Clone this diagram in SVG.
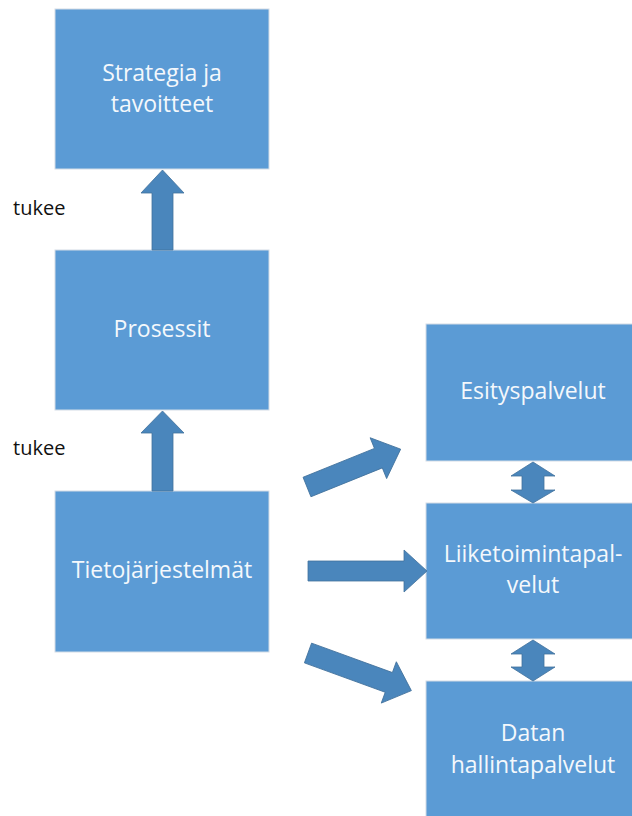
<svg xmlns="http://www.w3.org/2000/svg" width="632" height="816" viewBox="0 0 632 816">
<style>
.box{fill:#5B9BD5;stroke:#D3DCE6;stroke-width:1}
.lbl{font-family:"Open Sans","Liberation Sans",sans-serif;font-size:23px;fill:#F4F8FC;text-anchor:middle}
.side{font-family:"Open Sans","Liberation Sans",sans-serif;font-size:20px;fill:#111}
.arr{fill:#4A86BC;stroke:#41719C;stroke-width:0.8}
</style>
<rect width="632" height="816" fill="#fff"/>
<g id="strategia"><rect class="box" x="55" y="9" width="214" height="160"/><text class="lbl" x="162" y="81">Strategia ja</text><text class="lbl" x="162" y="112">tavoitteet</text></g>
<g id="prosessit"><rect class="box" x="55" y="250" width="214" height="160"/><text class="lbl" x="162" y="337">Prosessit</text></g>
<g id="tietojarjestelmat"><rect class="box" x="55" y="491" width="214" height="161"/><text class="lbl" x="162" y="578">Tietojärjestelmät</text></g>
<g id="esityspalvelut"><rect class="box" x="426" y="324" width="214" height="137"/><text class="lbl" x="533" y="399">Esityspalvelut</text></g>
<g id="liiketoimintapalvelut"><rect class="box" x="426" y="503" width="214" height="136"/><text class="lbl" x="533" y="562">Liiketoimintapal-</text><text class="lbl" x="533" y="593">velut</text></g>
<g id="datan"><rect class="box" x="426" y="681" width="214" height="140"/><text class="lbl" x="533" y="741">Datan</text><text class="lbl" x="533" y="773">hallintapalvelut</text></g>
<g id="labels"><text class="side" x="13" y="215">tukee</text><text class="side" x="13" y="455">tukee</text></g>
<g id="connectors">
<polygon class="arr" points="162.5,170 184,193 173,193 173,250 152,250 152,193 141,193"/>
<polygon class="arr" points="162.5,411 184,433 173,433 173,491 152,491 152,433 141,433"/>
<polygon class="arr" points="533,462 555,476 544,476 544,490 555,490 533,503 511,490 522,490 522,476 511,476"/>
<polygon class="arr" points="533,640 555,654 544,654 544,667 555,667 533,681 511,667 522,667 522,654 511,654"/>
<polygon class="arr" points="308,561 404,561 404,550 427,571 404,592 404,581 308,581"/>
<polygon class="arr" transform="translate(307,487) rotate(-22)" points="0,-10.5 77,-10.5 77,-22 101,0 77,22 77,10.5 0,10.5"/>
<polygon class="arr" transform="translate(308,653) rotate(20)" points="0,-10.5 86,-10.5 86,-22 110,0 86,22 86,10.5 0,10.5"/>
</g>
</svg>
